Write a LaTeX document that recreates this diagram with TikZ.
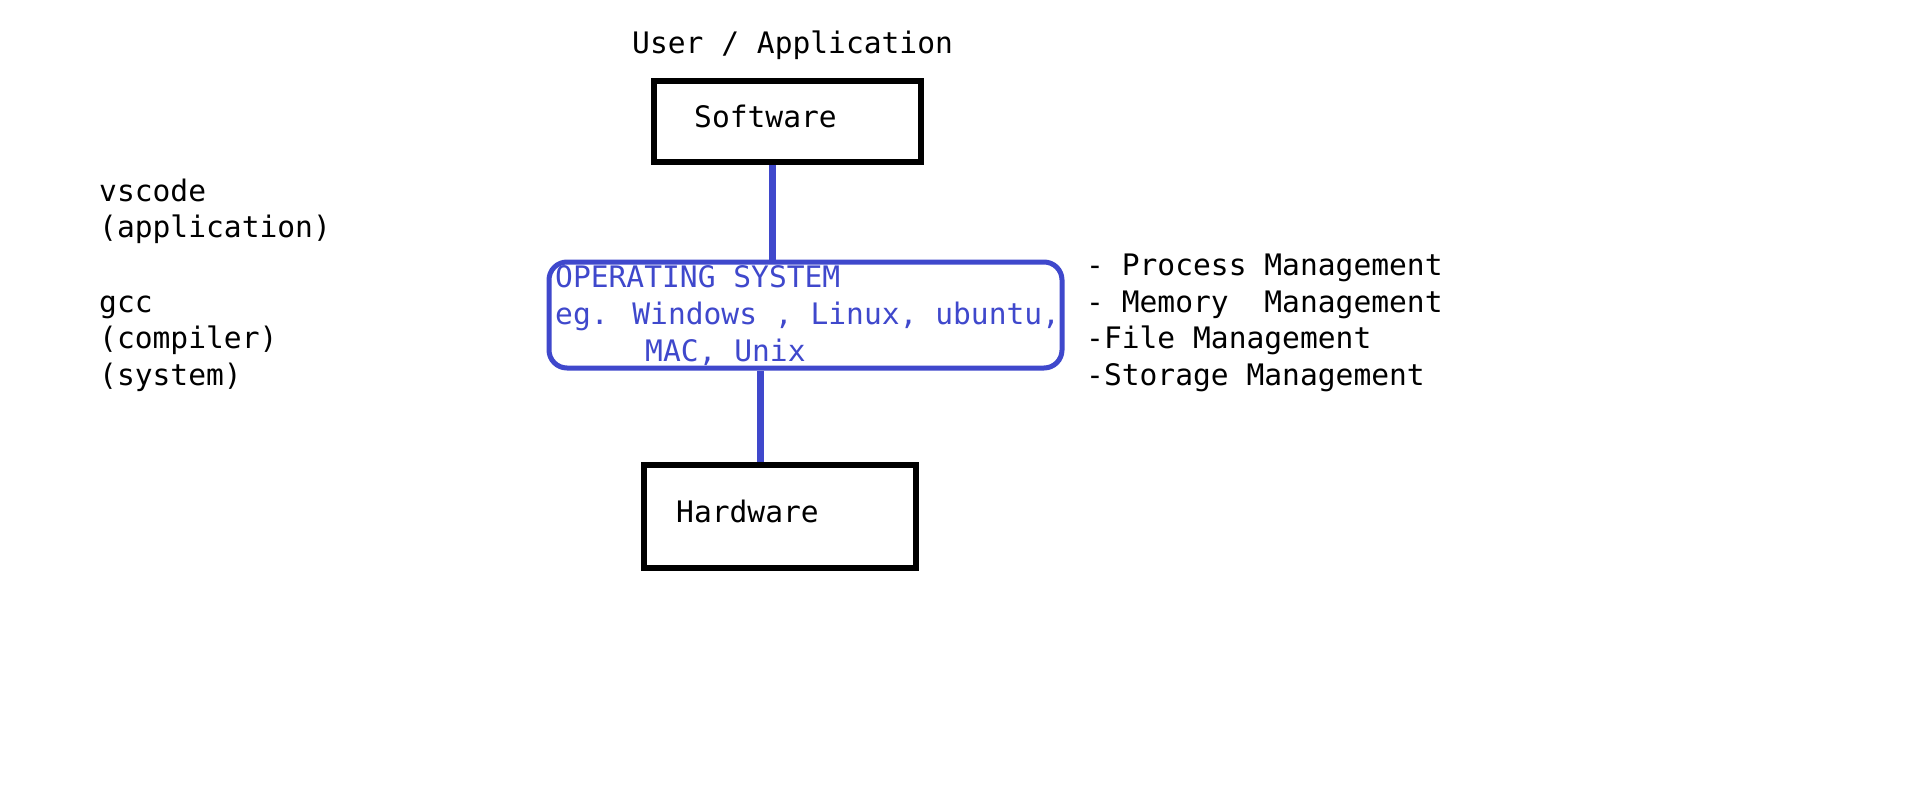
\documentclass[tikz,border=0pt]{standalone}
\usepackage{fontspec}
\setmainfont{DejaVu Sans Mono}
\setmonofont{DejaVu Sans Mono}
\definecolor{osblue}{RGB}{63,72,204}
\begin{document}
\begin{tikzpicture}[x=1pt,y=-1pt,
  txt/.style={inner sep=0pt,anchor=base west,font=\fontsize{29.6}{36.6}\selectfont},
  bluetxt/.style={txt,text=osblue},
  blackbox/.style={draw=black,line width=5.5pt,inner sep=0pt},
  osbox/.style={draw=osblue,line width=5pt,rounded corners=18pt,inner sep=0pt},
  link/.style={draw=osblue,line width=7pt}]
\useasboundingbox[fill=white] (0,0) rectangle (1914,806);
% boxes
\node[blackbox,minimum width=267pt,minimum height=81pt] (sw) at (787.5,121.5) {};
\node[osbox,minimum width=513pt,minimum height=106pt] (os) at (805.5,315) {};
\node[blackbox,minimum width=272pt,minimum height=103pt] (hw) at (780,516.5) {};
% texts
\node[txt] (user) at (632,53) {User / Application};
\node[txt] (swt) at (694,127) {Software};
\node[txt] (hwt) at (676,522) {Hardware};
\node[txt] (l1) at (99,201) {vscode};
\node[txt] (l2) at (99,237) {(application)};
\node[txt] (l3) at (99,312) {gcc};
\node[txt] (l4) at (99,348) {(compiler)};
\node[txt] (l5) at (99,385) {(system)};
\node[bluetxt] (o1) at (555,287) {OPERATING SYSTEM};
\node[bluetxt] (o2) at (555,324) {eg. Windows , Linux, ubuntu,};
\node[bluetxt] (o3) at (645,361) {MAC, Unix};
\node[txt] (r1) at (1086,275) {- Process Management};
\node[txt] (r2) at (1086,312) {- Memory\ \ Management};
\node[txt] (r3) at (1086,348) {-File Management};
\node[txt] (r4) at (1086,385) {-Storage Management};
% connectors
\draw[link] ([xshift=-15pt]sw.south) -- ([xshift=-15pt]sw.south |- os.north);
\draw[link] ([xshift=-45pt]os.south) -- ([xshift=-45pt]os.south |- hw.north);
\end{tikzpicture}
\end{document}
